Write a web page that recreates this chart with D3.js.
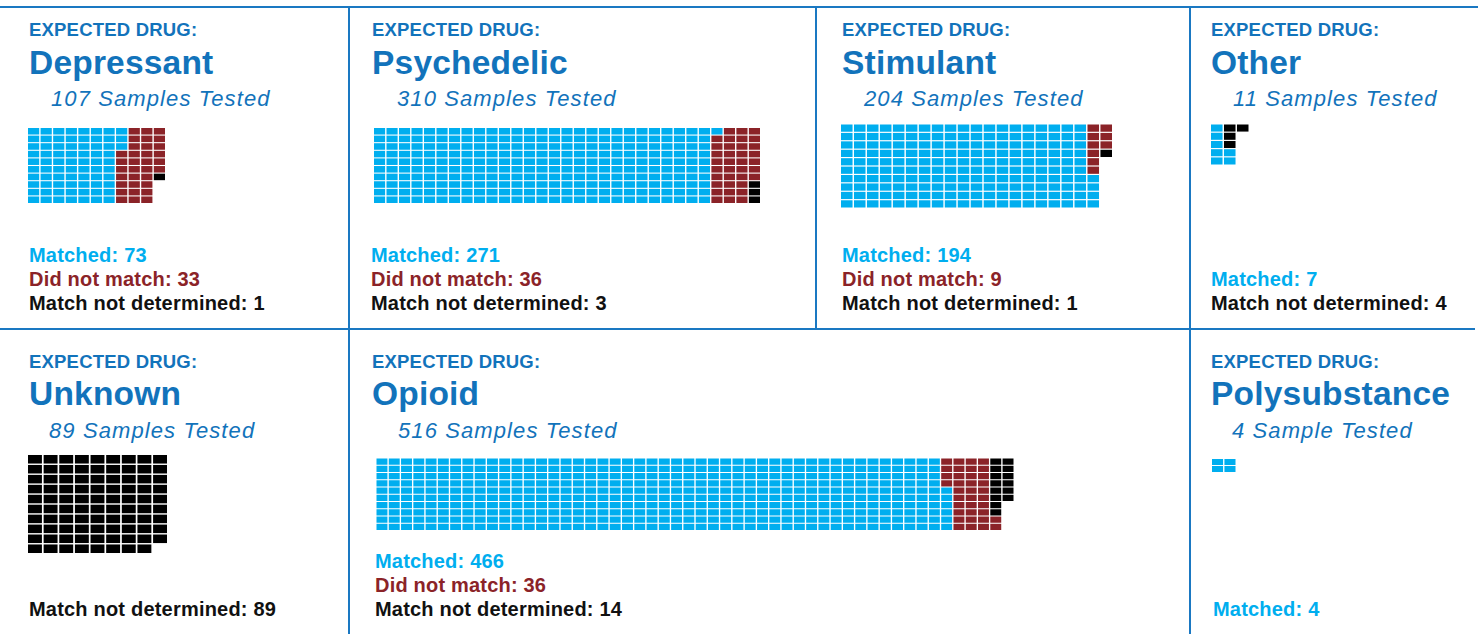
<!DOCTYPE html>
<html>
<head>
<meta charset="utf-8">
<script src="https://cdn.jsdelivr.net/npm/d3@7/dist/d3.min.js"></script>
<style>
  html, body { margin: 0; padding: 0; background: #fff; }
  svg { display: block; }
</style>
</head>
<body>
<svg id="chart" width="1482" height="634"></svg>
<script>
// Lab test results grouped by the drug the sample was expected to be
const drugs         = ["Depressant", "Psychedelic", "Stimulant", "Other", "Unknown", "Opioid", "Polysubstance"];
const samplesTested = [107, 310, 204, 11, 89, 516, 4];
const sampleNoun    = ["Samples", "Samples", "Samples", "Samples", "Samples", "Samples", "Sample"];
const matched       = [73, 271, 194, 7, 0, 466, 4];
const didNotMatch   = [33, 36, 9, 0, 0, 36, 0];
const notDetermined = [1, 3, 1, 4, 89, 14, 0];

const outcomeNames  = ["Matched", "Did not match", "Match not determined"];
const outcomeColors = ["#00aeef", "#8b2328", "#000000"];

// Panel placement: text anchors and waffle box for each drug group
const layout = [
  { tx: 29,   sx: 51,   lx: 29,   row: 0, grid: { x: 28,    y: 128,   w: 137,   h: 75,   rows: 10, dir: "down" } },
  { tx: 372,  sx: 397,  lx: 371,  row: 0, grid: { x: 374,   y: 128,   w: 386,   h: 75,   rows: 10, dir: "down" } },
  { tx: 842,  sx: 864,  lx: 842,  row: 0, grid: { x: 841,   y: 124.5, w: 271,   h: 83,   rows: 10, dir: "up" } },
  { tx: 1211, sx: 1233, lx: 1211, row: 0, grid: { x: 1211,  y: 124.5, w: 37.5,  h: 40,   rows: 5,  dir: "up" } },
  { tx: 29,   sx: 49,   lx: 29,   row: 1, grid: { x: 28,    y: 455,   w: 139,   h: 98,   rows: 10, dir: "down" } },
  { tx: 372,  sx: 398,  lx: 375,  row: 1, grid: { x: 376.5, y: 458.5, w: 637,   h: 71.5, rows: 10, dir: "up" } },
  { tx: 1211, sx: 1232, lx: 1213, row: 1, grid: { x: 1212,  y: 459,   w: 23.5,  h: 13,   rows: 2,  dir: "down" } }
];
const rowBase = [
  { label: 36,  name: 73.5, samples: 106, legendBottom: 310 },
  { label: 368, name: 405,  samples: 438, legendBottom: 616 }
];

const blue = "#1273bb";
const lineColor = "#1a78c2";
const svg = d3.select("#chart");

// Panel dividers
const rules = svg.append("g").attr("stroke", lineColor).attr("stroke-width", 2);
[[0, 7, 1478, 7], [0, 329, 1475, 329], [349, 7, 349, 634], [816, 7, 816, 329], [1190, 7, 1190, 634]]
  .forEach(([x1, y1, x2, y2]) => rules.append("line").attr("x1", x1).attr("y1", y1).attr("x2", x2).attr("y2", y2));

drugs.forEach((drug, i) => {
  const L = layout[i];
  const base = rowBase[L.row];
  const g = svg.append("g");

  g.append("text")
    .attr("x", L.tx).attr("y", base.label)
    .attr("fill", blue)
    .style("font", "bold 18.5px 'Liberation Sans', Arial, sans-serif")
    .style("letter-spacing", "0.2px")
    .text("EXPECTED DRUG:");

  g.append("text")
    .attr("x", L.tx).attr("y", base.name)
    .attr("fill", blue)
    .style("font", "bold 33.5px 'Liberation Sans', Arial, sans-serif")
    .style("letter-spacing", "0.2px")
    .text(drug);

  g.append("text")
    .attr("x", L.sx).attr("y", base.samples)
    .attr("fill", blue)
    .style("font", "italic 22px 'Liberation Sans', Arial, sans-serif")
    .style("letter-spacing", "1.1px")
    .text(`${samplesTested[i]} ${sampleNoun[i]} Tested`);

  // Waffle: one cell per sample, filled column by column
  const counts = [matched[i], didNotMatch[i], notDetermined[i]];
  const cells = [];
  counts.forEach((c, k) => { for (let j = 0; j < c; j++) cells.push(k); });
  const G = L.grid;
  const total = cells.length;
  const cols = Math.ceil(total / G.rows);
  const partial = total % G.rows !== 0;

  const x = d3.scaleBand().domain(d3.range(cols)).range([G.x, G.x + G.w]).paddingInner(0.11);
  const y = d3.scaleBand().domain(d3.range(G.rows)).range([G.y, G.y + G.h]).paddingInner(0.14);
  const color = d3.scaleOrdinal().domain([0, 1, 2]).range(outcomeColors);

  const pos = cells.map((k, idx) => {
    const c = Math.floor(idx / G.rows);
    const r = idx % G.rows;
    const lastPartial = partial && c === cols - 1;
    const rr = (G.dir === "up" && !lastPartial) ? G.rows - 1 - r : r;
    return { k, c, r: rr };
  });

  g.append("g").selectAll("rect").data(pos).join("rect")
    .attr("x", d => x(d.c))
    .attr("y", d => y(d.r))
    .attr("width", x.bandwidth())
    .attr("height", y.bandwidth())
    .attr("fill", d => color(d.k));

  // Legend lines, bottom-aligned, only for outcomes that occur
  const items = counts.map((c, k) => ({ c, k })).filter(d => d.c > 0);
  items.forEach((d, j) => {
    g.append("text")
      .attr("x", L.lx)
      .attr("y", base.legendBottom - (items.length - 1 - j) * 24)
      .attr("fill", d.k === 2 ? "#111" : outcomeColors[d.k])
      .style("font", "bold 20px 'Liberation Sans', Arial, sans-serif")
      .style("letter-spacing", "0.2px")
      .text(`${outcomeNames[d.k]}: ${d.c}`);
  });
});
</script>
</body>
</html>
